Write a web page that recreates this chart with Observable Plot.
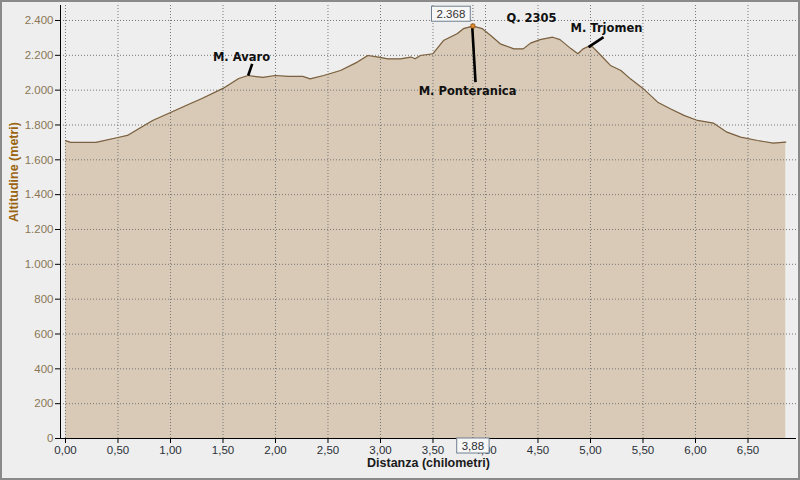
<!DOCTYPE html>
<html><head><meta charset="utf-8">
<script src="https://cdn.jsdelivr.net/npm/d3@7"></script>
<script src="https://cdn.jsdelivr.net/npm/@observablehq/plot@0.6"></script>
<style>
html,body{margin:0;padding:0;background:#eeeeee;}
#chart svg{display:block;outline:2px solid #8a8a8a;outline-offset:-2px;}
</style></head><body><div id="chart"></div>
<script>
// Elevation profile (distance in km, altitude in m)
const distanceKm = [0, 0.05, 0.29, 0.5, 0.59, 0.83, 0.98, 1.17, 1.3, 1.5, 1.65, 1.74, 1.88, 2.0, 2.12, 2.26, 2.33, 2.46, 2.62, 2.78, 2.88, 2.98, 3.07, 3.19, 3.29, 3.33, 3.38, 3.5, 3.6, 3.73, 3.79, 3.88, 3.97, 4.05, 4.14, 4.27, 4.36, 4.43, 4.52, 4.64, 4.71, 4.81, 4.88, 4.93, 4.98, 5.02, 5.1, 5.19, 5.29, 5.38, 5.5, 5.64, 5.76, 5.89, 6.02, 6.17, 6.3, 6.43, 6.59, 6.74, 6.86];
const altitudeM  = [1710, 1700, 1700, 1728, 1740, 1826, 1866, 1918, 1952, 2010, 2067, 2084, 2073, 2084, 2079, 2079, 2065, 2084, 2113, 2161, 2199, 2190, 2180, 2180, 2190, 2180, 2199, 2209, 2285, 2324, 2353, 2368, 2353, 2314, 2266, 2237, 2237, 2270, 2290, 2304, 2290, 2240, 2209, 2237, 2251, 2248, 2199, 2142, 2113, 2065, 2010, 1931, 1893, 1855, 1826, 1811, 1759, 1730, 1711, 1696, 1702];

const xTicks = [0, 0.5, 1, 1.5, 2, 2.5, 3, 3.5, 4, 4.5, 5, 5.5, 6, 6.5];
const yTicks = [0, 200, 400, 600, 800, 1000, 1200, 1400, 1600, 1800, 2000, 2200, 2400];
const xDomain = [-0.0476, 6.962];
const yDomain = [0, 2486];

const peakKm = 3.88;
const peakAlt = 2368;

const peakNames = ["M. Avaro", "M. Ponteranica", "Q. 2305", "M. Trjomen"];
const peakNameKm = [1.676, 3.829, 4.438, 5.152];
const peakNameAlt = [2188, 1992, 2415, 2354];

const leaderNames = ["M. Avaro", "M. Ponteranica", "M. Trjomen"];
const leaderFromKm = [1.778, 3.873, 5.124];
const leaderFromAlt = [2151, 2371, 2304];
const leaderToKm = [1.74, 3.905, 4.981];
const leaderToAlt = [2084, 2046, 2247];

const xTitle = "Distanza (chilometri)";
const yTitle = "Altitudine (metri)";

const profile = distanceKm.map((d, i) => ({km: d, alt: altitudeM[i]}));
const names = peakNames.map((n, i) => ({name: n, km: peakNameKm[i], alt: peakNameAlt[i]}));
const leaders = leaderNames.map((n, i) => ({x1: leaderFromKm[i], y1: leaderFromAlt[i], x2: leaderToKm[i], y2: leaderToAlt[i]}));

const loc = d3.formatLocale({decimal: ",", thousands: ".", grouping: [3], currency: ["", ""]});
const fmtAlt = loc.format(",");
const fmtKm = loc.format(".2f");
const peakAltText = fmtAlt(peakAlt);
const peakKmText = fmtKm(peakKm);

const svg = Plot.plot({
  width: 800, height: 480,
  marginLeft: 60, marginRight: 4, marginTop: 5, marginBottom: 42,
  style: {background: "#eeeeee", fontFamily: "'Liberation Sans', sans-serif", overflow: "visible"},
  x: {domain: xDomain},
  y: {domain: yDomain},
  marks: [
    Plot.areaY(profile, {x: "km", y: "alt", fill: "#d8cab6"}),
    Plot.gridX(xTicks, {stroke: "#777", strokeOpacity: 1, strokeDasharray: "1,2"}),
    Plot.gridY(yTicks, {stroke: "#777", strokeOpacity: 1, strokeDasharray: "1,2"}),
    Plot.line(profile, {x: "km", y: "alt", stroke: "#7a6040", strokeWidth: 1.2}),
    Plot.ruleX([peakKm], {stroke: "#666", strokeDasharray: "1,2"}),
    Plot.ruleY([0], {stroke: "#000"}),
    Plot.ruleX([xDomain[0]], {stroke: "#000"}),
    Plot.axisY(yTicks, {tickSize: 5, tickPadding: 2, tickFormat: fmtAlt, fill: "#8a7654", stroke: "#000", fontSize: 11.5, label: null}),
    Plot.axisX(xTicks, {tickSize: 5, tickPadding: 2, tickFormat: fmtKm, fill: "#2b2f36", stroke: "#000", fontSize: 11.5, label: null}),
    Plot.text([xTitle], {text: d => d, frameAnchor: "bottom", dy: 28, fontWeight: "bold", fontSize: 12.5, fill: "#1a1a1a"}),
    Plot.text([yTitle], {text: d => d, frameAnchor: "left", rotate: -90, dx: -47, fontWeight: "bold", fontSize: 12.5, fill: "#9a6410"}),
    Plot.link(leaders, {x1: "x1", y1: "y1", x2: "x2", y2: "y2", stroke: "#000", strokeWidth: 2.6}),
    Plot.text(names, {x: "km", y: "alt", text: "name", fontFamily: "'DejaVu Sans', sans-serif", fontWeight: "bold", fontSize: 11.5, fill: "#111"}),
    Plot.dot([{km: peakKm, alt: peakAlt}], {x: "km", y: "alt", symbol: "square", r: 2.2, fill: "#e08a2a", stroke: "#9a5a18", strokeWidth: 0.8}),
    Plot.text([peakAlt], {x: () => peakKm, y: d => d, text: () => peakAltText, dx: -22, dy: -12, fontSize: 11.5, fill: "#333"}),
    Plot.text([peakKm], {x: d => d, text: () => peakKmText, frameAnchor: "bottom", dy: 11, fontSize: 11.5, fill: "#2b2f36"})
  ]
});
document.getElementById("chart").append(svg);

// draw boxes behind the value labels (cursor read-outs)
const boxed = [peakAltText, peakKmText];
svg.querySelectorAll("text").forEach(t => {
  if (!boxed.includes(t.textContent)) return;
  const b = t.getBBox();
  const r = document.createElementNS("http://www.w3.org/2000/svg", "rect");
  r.setAttribute("x", b.x - 5);
  r.setAttribute("y", b.y - 1.5);
  r.setAttribute("width", b.width + 10);
  r.setAttribute("height", b.height + 3);
  r.setAttribute("fill", "#f7f7f7");
  r.setAttribute("stroke", "#6f7f8f");
  r.setAttribute("stroke-width", 1);
  const tr = t.getAttribute("transform");
  if (tr) r.setAttribute("transform", tr);
  t.parentNode.insertBefore(r, t);
});
</script></body></html>
